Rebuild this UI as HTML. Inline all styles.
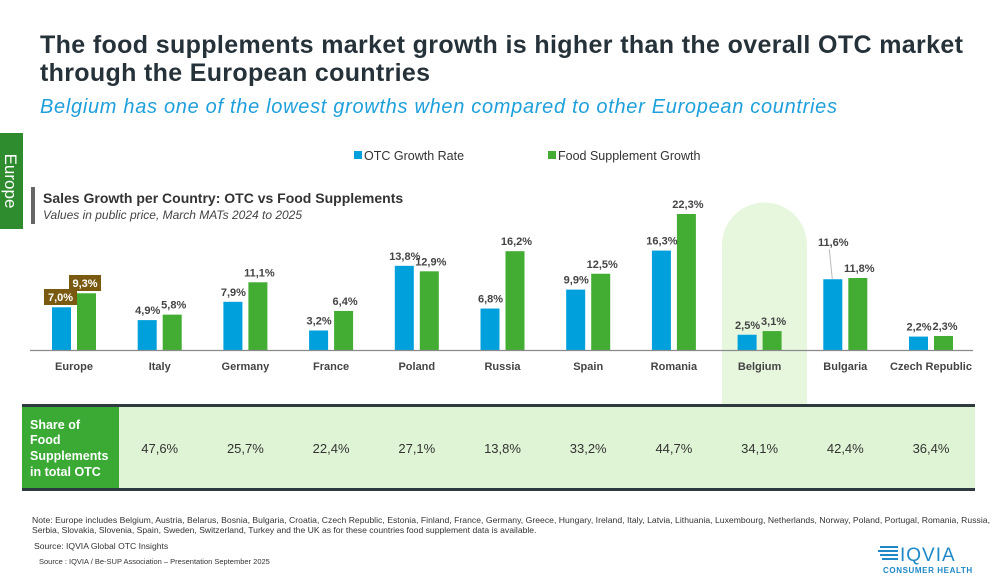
<!DOCTYPE html>
<html><head><meta charset="utf-8"><style>
html,body{margin:0;padding:0;background:#fff;}
svg{display:block;font-family:"Liberation Sans",Arial,sans-serif;}
</style></head><body>
<svg width="1000" height="580" viewBox="0 0 1000 580" xmlns="http://www.w3.org/2000/svg">
<rect width="1000" height="580" fill="#fff"/>
<text x="40" y="53" font-size="25" font-weight="bold" fill="#26323a" textLength="923">The food supplements market growth is higher than the overall OTC market</text>
<text x="40" y="81" font-size="25" font-weight="bold" fill="#26323a" textLength="390">through the European countries</text>
<text x="40" y="113" font-size="20" font-style="italic" fill="#1ea0dc" textLength="797">Belgium has one of the lowest growths when compared to other European countries</text>
<!-- Europe tab -->
<rect x="0" y="133" width="23" height="96" fill="#2e8b2e"/>
<text transform="translate(5,181) rotate(90)" font-size="17" fill="#fff" text-anchor="middle">Europe</text>
<!-- legend -->
<rect x="354" y="151" width="8" height="8" fill="#00a0dd"/>
<text x="364" y="160" font-size="12.5" fill="#333">OTC Growth Rate</text>
<rect x="548" y="151" width="8" height="8" fill="#43ad33"/>
<text x="558" y="160" font-size="12.5" fill="#333">Food Supplement Growth</text>
<!-- chart title -->
<rect x="31" y="187" width="4" height="37" fill="#666"/>
<text x="43" y="203" font-size="14" font-weight="bold" fill="#333">Sales Growth per Country: OTC vs Food Supplements</text>
<text x="43" y="219" font-size="12" font-style="italic" fill="#444">Values in public price, March MATs 2024 to 2025</text>
<!-- Belgium highlight -->
<path d="M722,405 V245 A42.5,42.5 0 0 1 807,245 V405 Z" fill="#e6f7de"/>
<g id="bars"></g>
<line x1="30" y1="350.5" x2="973" y2="350.5" stroke="#8a8a8a" stroke-width="1.2"/>
<!-- table -->
<rect x="22" y="405" width="953" height="85" fill="#dff4d5"/>
<rect x="22" y="405" width="97" height="85" fill="#3aaa35"/>
<rect x="22" y="404" width="953" height="3" fill="#2f3a40"/>
<rect x="22" y="488" width="953" height="3" fill="#2f3a40"/>
<g font-size="12.5" font-weight="bold" fill="#fff">
<text x="30" y="429">Share of</text>
<text x="30" y="444">Food</text>
<text x="30" y="460">Supplements</text>
<text x="30" y="476">in total OTC</text>
</g>
<g id="shares" font-size="13" fill="#333" text-anchor="middle"></g>
<!-- notes -->
<text x="32" y="523" font-size="8.6" fill="#333" textLength="958">Note: Europe includes Belgium, Austria, Belarus, Bosnia, Bulgaria, Croatia, Czech Republic, Estonia, Finland, France, Germany, Greece, Hungary, Ireland, Italy, Latvia, Lithuania, Luxembourg, Netherlands, Norway, Poland, Portugal, Romania, Russia,</text>
<text x="32" y="533" font-size="8.6" fill="#333">Serbia, Slovakia, Slovenia, Spain, Sweden, Switzerland, Turkey and the UK as for these countries food supplement data is available.</text>
<text x="34" y="549" font-size="8.6" fill="#333">Source: IQVIA Global OTC Insights</text>
<text x="39" y="564" font-size="7.5" fill="#333">Source : IQVIA  / Be-SUP Association – Presentation September 2025</text>
<!-- logo -->
<g fill="#1e88c8">
<rect x="880" y="546" width="18" height="2"/><rect x="878" y="550" width="20" height="2"/><rect x="880" y="554" width="18" height="2"/><rect x="882" y="558" width="16" height="2"/>
</g>
<text x="900" y="561" font-size="19" fill="#1e88c8" letter-spacing="1">IQVIA</text>
<text x="883" y="573" font-size="8" font-weight="bold" fill="#1e88c8" letter-spacing="0.6">CONSUMER HEALTH</text>
<script>
(function(){
var names=["Europe","Italy","Germany","France","Poland","Russia","Spain","Romania","Belgium","Bulgaria","Czech Republic"];
var otc=[7.0,4.9,7.9,3.2,13.8,6.8,9.9,16.3,2.5,11.6,2.2];
var fs=[9.3,5.8,11.1,6.4,12.9,16.2,12.5,22.3,3.1,11.8,2.3];
var sh=["47,6%","25,7%","22,4%","27,1%","13,8%","33,2%","44,7%","34,1%","42,4%","36,4%"];
var ns="http://www.w3.org/2000/svg",g=document.getElementById("bars"),s=document.getElementById("shares");
function el(p,t,a,txt){var e=document.createElementNS(ns,t);for(var k in a)e.setAttribute(k,a[k]);if(txt)e.textContent=txt;p.appendChild(e);return e;}
function f(v){return v.toFixed(1).replace(".",",")+"%";}
var k=6.1,b=350;
for(var i=0;i<11;i++){
 var c=74+i*85.7;
 var h1=otc[i]*k,h2=fs[i]*k;
 el(g,"rect",{x:c-22,y:b-h1,width:19,height:h1,fill:"#00a0dd"});
 el(g,"rect",{x:c+3,y:b-h2,width:19,height:h2,fill:"#43ad33"});
 var lb={"font-size":11,"font-weight":"bold",fill:"#444","text-anchor":"middle"};
 if(i==0){
  el(g,"rect",{x:44,y:289,width:33,height:16,fill:"#7a5a10"});
  el(g,"rect",{x:69,y:275,width:32,height:16,fill:"#7a5a10"});
  el(g,"text",{x:60.5,y:301,"font-size":11,"font-weight":"bold",fill:"#fff","text-anchor":"middle"},"7,0%");
  el(g,"text",{x:85,y:287,"font-size":11,"font-weight":"bold",fill:"#fff","text-anchor":"middle"},"9,3%");
 } else {
  var y1=b-h1-6,y2=b-h2-6;
  if(i==9){y1=b-h1-33;el(g,"line",{x1:c-13,y1:b-h1,x2:c-16,y2:b-h1-30,stroke:"#bbb","stroke-width":1});}
  el(g,"text",Object.assign({x:c-12,y:y1},lb),f(otc[i]));
  el(g,"text",Object.assign({x:c+14,y:y2},lb),f(fs[i]));
 }
 el(g,"text",{x:c,y:370,"font-size":11,"font-weight":"bold",fill:"#444","text-anchor":"middle"},names[i]);
 if(i>0) el(s,"text",{x:c,y:453},sh[i-1]);
}
})();
</script>
</svg>
</body></html>
